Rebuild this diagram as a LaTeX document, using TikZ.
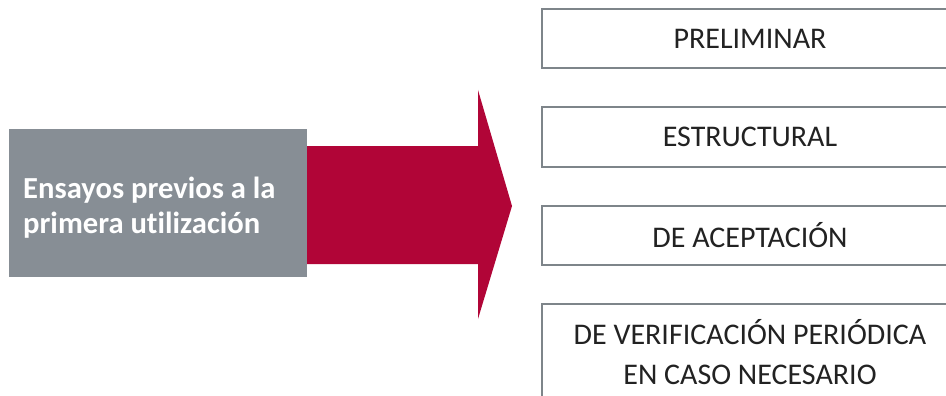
\documentclass[tikz,border=0pt]{standalone}
\usepackage{fontspec}
\setmainfont{Carlito}[Ligatures=NoCommon]
\definecolor{srcgray}{HTML}{878E95}
\definecolor{crimson}{HTML}{B10537}
\definecolor{edgegray}{HTML}{7E858A}
\definecolor{txt}{HTML}{222222}
\begin{document}
\begin{tikzpicture}[x=1pt,y=-1pt,
  srcbox/.style={fill=srcgray,minimum width=298pt,minimum height=148pt},
  srclabel/.style={anchor=base west,inner sep=0pt,align=left,text=white,
    font=\fontsize{30.6}{35}\selectfont\bfseries},
  stagebox/.style={draw=edgegray,line width=2pt,fill=white,minimum width=416pt,anchor=west,
    align=center,text=txt,font=\fontsize{30}{40}\selectfont}]
\useasboundingbox (0,0) rectangle (946,396);
\clip (0,0) rectangle (946,396);
\node[srcbox] (src) at (158,203) {};
\node[srclabel] (srclab) at (23,233) {Ensayos previos a la\\primera utilización};
\fill[crimson] (src.east|-0,146) -- (478,146) -- (478,90) -- (512,206) -- (478,319) -- (478,264) -- (src.east|-0,264) -- cycle;
\node[stagebox,minimum height=59pt] (s1) at (541,38.5) {PRELIMINAR};
\node[stagebox,minimum height=59pt] (s2) at (541,137) {ESTRUCTURAL};
\node[stagebox,minimum height=59pt] (s3) at (541,235.5) {DE ACEPTACIÓN};
\node[stagebox,minimum height=97pt] (s4) at (541,352.5) {DE VERIFICACIÓN PERIÓDICA\\EN CASO NECESARIO};
\end{tikzpicture}
\end{document}
